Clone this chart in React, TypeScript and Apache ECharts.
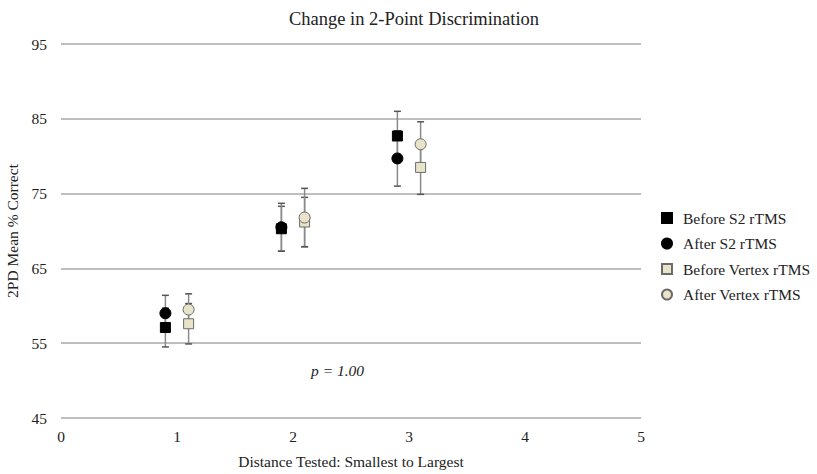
import React, { useEffect, useRef } from "react";
import * as echarts from "echarts";

const distances = [1, 2, 3];
const seriesNames = ["Before S2 rTMS", "After S2 rTMS", "Before Vertex rTMS", "After Vertex rTMS"];
const beforeS2 = [57.1, 70.3, 82.7];
const afterS2 = [59.0, 70.5, 79.7];
const beforeVertex = [57.6, 71.2, 78.5];
const afterVertex = [59.5, 71.8, 81.6];
const errBeforeS2 = [2.6, 3.0, 3.3];
const errAfterS2 = [2.4, 3.2, 3.7];
const errBeforeVertex = [2.7, 3.3, 3.6];
const errAfterVertex = [2.1, 3.9, 3.0];
const xTicks = [0, 1, 2, 3, 4, 5];
const yTicks = [45, 55, 65, 75, 85, 95];

const FONT = "'Liberation Serif', 'Times New Roman', serif";
const FS = 15.5;

export default function App() {
  const ref = useRef<HTMLDivElement>(null);
  useEffect(() => {
    if (!ref.current) return;
    const chart = echarts.init(ref.current, null, { renderer: "svg" });
    const groups = [
      { name: seriesNames[0], vals: beforeS2, errs: errBeforeS2, off: -0.1, symbol: "rect", fill: "#000000", border: "#000000" },
      { name: seriesNames[1], vals: afterS2, errs: errAfterS2, off: -0.1, symbol: "circle", fill: "#000000", border: "#000000" },
      { name: seriesNames[2], vals: beforeVertex, errs: errBeforeVertex, off: 0.1, symbol: "rect", fill: "#e8e3c9", border: "#6b6b6b" },
      { name: seriesNames[3], vals: afterVertex, errs: errAfterVertex, off: 0.1, symbol: "circle", fill: "#e8e3c9", border: "#6b6b6b" },
    ];
    const errSeries = groups.map((g) => ({
      type: "custom",
      name: g.name + " err",
      z: 1,
      silent: true,
      data: distances.map((d, i) => [d + g.off, g.vals[i] - g.errs[i], g.vals[i] + g.errs[i]]),
      renderItem: (params: any, api: any) => {
        const x = api.value(0);
        const lo = api.coord([x, api.value(1)]);
        const hi = api.coord([x, api.value(2)]);
        const cap = 3.5;
        return {
          type: "group",
          children: [
            { type: "line", shape: { x1: lo[0], y1: lo[1], x2: hi[0], y2: hi[1] }, style: { stroke: "#8a8a8a", lineWidth: 1.5 } },
            { type: "line", shape: { x1: lo[0] - cap, y1: lo[1], x2: lo[0] + cap, y2: lo[1] }, style: { stroke: "#555555", lineWidth: 1.5 } },
            { type: "line", shape: { x1: hi[0] - cap, y1: hi[1], x2: hi[0] + cap, y2: hi[1] }, style: { stroke: "#555555", lineWidth: 1.5 } },
          ],
        };
      },
    }));
    const scatterSeries = groups.map((g, gi) => ({
      type: "scatter",
      name: g.name,
      z: 3 + (gi === 0 ? 1 : 0) + (gi === 3 ? 1 : 0),
      symbol: g.symbol,
      symbolSize: g.symbol === "rect" ? 10 : 11,
      itemStyle: { color: g.fill, borderColor: g.border, borderWidth: 1, opacity: 1 },
      data: distances.map((d, i) => [d + g.off, g.vals[i]]),
    }));
    chart.setOption({
      animation: false,
      backgroundColor: "#ffffff",
      textStyle: { fontFamily: FONT },
      title: {
        text: "Change in 2-Point Discrimination",
        left: 409,
        top: 4,
        textAlign: "center",
        textStyle: { fontFamily: FONT, fontSize: 18.5, fontWeight: "normal", color: "#222" },
      },
      grid: { left: 61, right: 176, top: 44, bottom: 56, containLabel: false, outerBoundsMode: "none" },
      legend: {
        orient: "vertical",
        left: 661,
        top: 210,
        padding: 0,
        itemWidth: 10,
        itemHeight: 10,
        itemGap: 9.5,
        data: seriesNames,
        textStyle: { fontFamily: FONT, fontSize: FS, lineHeight: 16, color: "#222", padding: [0, 0, 0, 6] },
      },
      xAxis: {
        type: "value",
        min: xTicks[0],
        max: xTicks[xTicks.length - 1],
        interval: 1,
        name: "Distance Tested: Smallest to Largest",
        nameLocation: "middle",
        nameGap: 35,
        nameTextStyle: { fontFamily: FONT, fontSize: FS, color: "#222" },
        axisLine: { show: false },
        axisTick: { show: false },
        splitLine: { show: false },
        axisLabel: { fontFamily: FONT, fontSize: FS, color: "#222", margin: 10 },
      },
      yAxis: {
        type: "value",
        min: yTicks[0],
        max: yTicks[yTicks.length - 1],
        interval: 10,
        name: "2PD Mean % Correct",
        nameLocation: "middle",
        nameGap: 40,
        nameTextStyle: { fontFamily: FONT, fontSize: FS, color: "#222" },
        axisLine: { show: false },
        axisTick: { show: false },
        splitLine: { show: true, lineStyle: { color: "#a8a8a8", width: 1.5 } },
        axisLabel: { fontFamily: FONT, fontSize: FS, color: "#222", margin: 14 },
      },
      graphic: [
        {
          type: "text",
          left: 311,
          top: 362,
          style: { text: "p = 1.00", font: "italic 15.5px " + FONT, fill: "#222" },
        },
      ],
      series: [...errSeries, ...scatterSeries],
    });
    return () => chart.dispose();
  }, []);
  return <div ref={ref} style={{ position: "fixed", left: 0, top: 0, width: 817, height: 474 }} />;
}
